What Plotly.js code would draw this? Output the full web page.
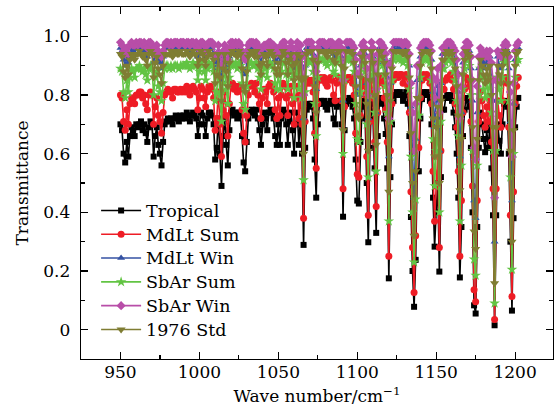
<!DOCTYPE html>
<html>
<head>
<meta charset="utf-8">
<script src="https://cdn.plot.ly/plotly-3.0.1.min.js"></script>
<style>
html,body{margin:0;padding:0;background:#fff;}
#chart{width:560px;height:414px;}
.legendtext{font-size:17.5px !important;}
</style>
</head>
<body>
<div id="chart"></div>
<script>
const wavenumber = [
950,951,952,953,954,955,956,957,958,959,960,961,962,963,964,965,966,967,968,969,
970,971,972,973,974,975,976,977,978,979,980,981,982,983,984,985,986,987,988,989,
990,991,992,993,994,995,996,997,998,999,1000,1001,1002,1003,1004,1005,1006,1007,1008,1009,
1010,1011,1012,1013,1014,1015,1016,1017,1018,1019,1020,1021,1022,1023,1024,1025,1026,1027,1028,1029,
1030,1031,1032,1033,1034,1035,1036,1037,1038,1039,1040,1041,1042,1043,1044,1045,1046,1047,1048,1049,
1050,1051,1052,1053,1054,1055,1056,1057,1058,1059,1060,1061,1062,1063,1064,1065,1066,1067,1068,1069,
1070,1071,1072,1073,1074,1075,1076,1077,1078,1079,1080,1081,1082,1083,1084,1085,1086,1087,1088,1089,
1090,1091,1092,1093,1094,1095,1096,1097,1098,1099,1100,1101,1102,1103,1104,1105,1106,1107,1108,1109,
1110,1111,1112,1113,1114,1115,1116,1117,1118,1119,1120,1121,1122,1123,1124,1125,1126,1127,1128,1129,
1130,1131,1132,1133,1134,1135,1136,1137,1138,1139,1140,1141,1142,1143,1144,1145,1146,1147,1148,1149,
1150,1151,1152,1153,1154,1155,1156,1157,1158,1159,1160,1161,1162,1163,1164,1165,1166,1167,1168,1169,
1170,1171,1172,1173,1174,1175,1176,1177,1178,1179,1180,1181,1182,1183,1184,1185,1186,1187,1188,1189,
1190,1191,1192,1193,1194,1195,1196,1197,1198,1199,1200,1201,1202];

const tropical = [
.70,.68,.60,.57,.64,.59,.66,.69,.68,.66, .70,.69,.70,.71,.68,.70,.67,.64,.69,.71,
.70,.59,.66,.69,.63,.60,.56,.64,.70,.71, .72,.71,.72,.70,.72,.73,.72,.71,.73,.72,
.73,.72,.74,.73,.71,.73,.74,.73,.72,.66, .70,.74,.73,.70,.66,.72,.74,.74,.73,.70,
.58,.62,.72,.60,.49,.66,.72,.63,.56,.68, .74,.75,.73,.74,.72,.74,.73,.66,.57,.54,
.64,.72,.74,.75,.74,.73,.75,.72,.68,.63, .70,.74,.72,.68,.74,.75,.74,.72,.66,.63,
.70,.63,.72,.75,.74,.70,.63,.71,.74,.68, .60,.70,.74,.63,.72,.60,.289,.62,.75,.77,
.76,.77,.72,.58,.45,.70,.77,.78,.77,.78, .76,.75,.77,.78,.77,.72,.70,.76,.78,.77,
.70,.385,.68,.77,.78,.79,.78,.76,.72,.58, .44,.43,.64,.76,.78,.72,.50,.298,.62,.77,
.72,.55,.33,.66,.78,.79,.77,.72,.667,.55, .175,.52,.70,.78,.80,.81,.80,.81,.80,.78,
.80,.81,.77,.66,.384,.20,.078,.238,.54,.54, .72,.786,.81,.80,.81,.80,.78,.70,.45,.283,
.40,.50,.198,.52,.75,.75,.79,.80,.79,.80, .78,.74,.69,.60,.45,.178,.35,.66,.75,.79,
.78,.76,.62,.40,.083,.055,.35,.62,.74,.70, .65,.605,.68,.62,.70,.55,.39,.015,.39,.70,
.644,.60,.70,.77,.78,.76,.60,.30,.065,.38, .69,.76,.79];

const mdltSum = [
.80,.79,.71,.68,.75,.70,.77,.79,.79,.77, .80,.80,.81,.81,.79,.80,.77,.75,.80,.81,
.80,.70,.76,.79,.73,.71,.67,.74,.80,.81, .82,.81,.81,.79,.82,.82,.81,.81,.82,.81,
.82,.81,.83,.82,.80,.82,.83,.82,.81,.75, .79,.83,.82,.79,.76,.81,.83,.83,.82,.79,
.68,.72,.81,.70,.59,.75,.81,.73,.66,.77, .83,.84,.82,.83,.81,.83,.82,.75,.67,.64,
.73,.80,.83,.84,.83,.81,.84,.80,.77,.72, .79,.82,.81,.77,.83,.84,.83,.81,.75,.72,
.79,.73,.80,.84,.83,.79,.73,.80,.83,.77, .70,.79,.83,.72,.80,.70,.38,.71,.84,.85,
.84,.85,.81,.67,.55,.77,.85,.86,.85,.86, .84,.83,.85,.86,.85,.80,.78,.84,.86,.85,
.78,.48,.76,.85,.86,.86,.86,.84,.80,.67, .53,.52,.73,.83,.85,.80,.59,.39,.71,.85,
.79,.64,.42,.74,.85,.86,.84,.79,.75,.64, .25,.61,.77,.85,.87,.87,.86,.87,.87,.84,
.86,.87,.83,.74,.47,.28,.127,.32,.62,.62, .79,.85,.87,.86,.87,.86,.84,.77,.54,.37,
.49,.59,.28,.61,.82,.82,.85,.86,.86,.87, .85,.82,.77,.69,.54,.25,.44,.74,.82,.86,
.85,.83,.71,.49,.136,.095,.44,.71,.81,.78, .73,.69,.76,.71,.78,.64,.48,.035,.48,.78,
.73,.69,.78,.85,.86,.84,.69,.39,.113,.47, .77,.83,.86];

const mdltWin = [
.96,.95,.92,.90,.93,.91,.94,.96,.95,.94, .96,.96,.96,.96,.95,.96,.95,.93,.96,.96,
.96,.91,.94,.95,.92,.91,.89,.93,.96,.96, .96,.96,.96,.95,.96,.96,.96,.95,.96,.96,
.96,.96,.96,.96,.95,.96,.96,.96,.96,.93, .94,.96,.96,.94,.93,.95,.96,.96,.96,.94,
.89,.91,.95,.90,.85,.93,.95,.91,.88,.93, .96,.96,.95,.96,.95,.96,.96,.92,.88,.87,
.92,.95,.96,.96,.96,.95,.96,.95,.93,.91, .94,.96,.95,.93,.96,.96,.96,.95,.92,.91,
.94,.91,.95,.96,.96,.94,.91,.94,.96,.93, .89,.93,.96,.90,.95,.89,.72,.90,.96,.96,
.96,.96,.94,.88,.82,.93,.96,.96,.96,.96, .95,.95,.96,.96,.96,.94,.93,.96,.96,.96,
.93,.78,.92,.96,.96,.97,.96,.95,.94,.88, .81,.80,.90,.95,.96,.94,.84,.72,.89,.96,
.93,.86,.74,.91,.96,.96,.95,.93,.91,.86, .59,.84,.92,.96,.97,.97,.96,.96,.96,.95,
.96,.96,.95,.90,.76,.61,.45,.65,.85,.85, .93,.95,.96,.96,.97,.96,.95,.92,.81,.69,
.78,.83,.61,.84,.94,.94,.96,.96,.96,.96, .96,.94,.92,.88,.81,.59,.74,.91,.94,.96,
.96,.95,.89,.78,.44,.38,.74,.89,.94,.92, .91,.89,.92,.89,.93,.86,.78,.30,.78,.93,
.90,.89,.93,.96,.96,.95,.89,.71,.44,.77, .92,.96,.96];

const sbarSum = [
.89,.88,.81,.79,.85,.81,.86,.89,.88,.86, .89,.89,.90,.89,.88,.89,.87,.85,.89,.90,
.89,.80,.86,.88,.83,.81,.78,.84,.89,.90, .90,.89,.90,.89,.90,.90,.90,.89,.90,.90,
.90,.90,.91,.90,.89,.90,.91,.90,.90,.85, .88,.91,.90,.88,.85,.89,.91,.90,.90,.88,
.78,.81,.89,.80,.71,.84,.89,.82,.77,.86, .90,.91,.90,.91,.89,.91,.90,.84,.77,.75,
.83,.89,.91,.91,.90,.90,.91,.89,.86,.82, .87,.90,.89,.86,.91,.91,.90,.89,.84,.82,
.87,.82,.88,.91,.91,.87,.82,.88,.91,.86, .79,.87,.91,.82,.88,.79,.51,.81,.91,.92,
.91,.92,.88,.77,.66,.86,.92,.92,.92,.92, .91,.90,.92,.92,.91,.88,.87,.91,.92,.92,
.86,.60,.85,.92,.92,.93,.92,.91,.88,.77, .65,.64,.81,.90,.92,.88,.70,.52,.80,.92,
.87,.74,.54,.82,.92,.92,.90,.87,.83,.74, .37,.71,.85,.92,.93,.93,.92,.93,.92,.91,
.92,.93,.90,.82,.59,.40,.23,.445,.73,.73, .86,.91,.93,.92,.93,.92,.91,.85,.65,.49,
.61,.70,.40,.71,.89,.89,.91,.92,.92,.93, .91,.88,.85,.78,.66,.37,.56,.82,.89,.92,
.92,.90,.80,.61,.24,.185,.56,.80,.89,.86, .82,.79,.85,.80,.86,.74,.61,.09,.61,.86,
.82,.78,.86,.91,.92,.91,.78,.52,.205,.60, .86,.91,.92];

const sbarWin = [
.98,.97,.95,.94,.96,.94,.97,.98,.97,.97, .98,.97,.98,.98,.97,.98,.97,.96,.98,.98,
.97,.94,.96,.97,.95,.94,.93,.95,.97,.98, .98,.97,.98,.97,.98,.98,.98,.97,.98,.98,
.98,.97,.98,.98,.97,.98,.98,.97,.98,.96, .97,.98,.98,.97,.95,.97,.98,.98,.98,.97,
.93,.94,.97,.94,.90,.95,.97,.95,.92,.96, .98,.98,.97,.98,.97,.98,.97,.95,.93,.92,
.95,.97,.98,.98,.98,.97,.98,.97,.96,.94, .96,.97,.97,.96,.98,.98,.97,.97,.95,.94,
.96,.94,.97,.98,.98,.96,.94,.96,.98,.96, .93,.96,.98,.94,.97,.93,.80,.94,.98,.98,
.98,.98,.96,.92,.88,.96,.98,.98,.98,.98, .97,.97,.98,.98,.98,.96,.96,.97,.98,.98,
.96,.85,.95,.98,.98,.98,.98,.97,.96,.92, .87,.87,.94,.97,.98,.96,.89,.80,.93,.98,
.96,.91,.82,.94,.98,.98,.97,.96,.94,.91, .72,.90,.95,.98,.98,.98,.98,.98,.98,.97,
.98,.98,.97,.94,.84,.74,.61,.77,.90,.90, .96,.97,.98,.98,.98,.98,.97,.95,.86,.79,
.85,.89,.74,.90,.96,.96,.97,.98,.98,.98, .97,.96,.95,.92,.87,.72,.83,.94,.96,.98,
.98,.97,.93,.85,.62,.58,.83,.93,.96,.95, .94,.93,.95,.93,.95,.91,.85,.45,.85,.95,
.94,.93,.95,.97,.98,.97,.93,.81,.59,.84, .95,.97,.98];

const std1976 = [
.94,.93,.88,.86,.90,.87,.92,.94,.93,.92, .94,.94,.95,.94,.93,.94,.92,.90,.94,.95,
.94,.86,.91,.93,.89,.87,.84,.90,.94,.94, .94,.94,.95,.93,.94,.95,.94,.94,.95,.94,
.94,.94,.95,.94,.93,.94,.95,.94,.94,.90, .92,.95,.94,.92,.90,.93,.95,.94,.94,.92,
.84,.87,.94,.86,.78,.89,.94,.88,.83,.91, .94,.95,.94,.94,.93,.95,.94,.89,.83,.81,
.88,.93,.94,.95,.94,.93,.95,.93,.90,.87, .91,.94,.93,.90,.94,.95,.94,.93,.89,.87,
.91,.87,.93,.95,.94,.91,.87,.92,.94,.90, .85,.91,.94,.86,.93,.85,.60,.86,.94,.95,
.95,.95,.92,.83,.74,.91,.95,.95,.95,.95, .94,.93,.95,.95,.95,.92,.91,.94,.95,.95,
.90,.68,.89,.95,.95,.95,.95,.94,.91,.83, .73,.72,.86,.93,.95,.91,.77,.61,.85,.95,
.91,.80,.63,.87,.95,.95,.93,.91,.87,.80, .47,.78,.89,.95,.95,.95,.95,.95,.95,.94,
.95,.95,.93,.86,.67,.50,.32,.54,.79,.79, .90,.94,.95,.95,.95,.95,.94,.89,.72,.59,
.69,.76,.50,.78,.92,.92,.94,.95,.94,.95, .94,.92,.89,.83,.73,.475,.65,.87,.92,.95,
.94,.93,.85,.69,.335,.275,.65,.85,.92,.90, .87,.84,.89,.85,.90,.80,.69,.158,.69,.90,
.87,.84,.90,.94,.95,.94,.84,.61,.30,.68, .90,.94,.95];

const seriesNames = ['Tropical','MdLt Sum','MdLt Win','SbAr Sum','SbAr Win','1976 Std'];
const seriesValues = [tropical, mdltSum, mdltWin, sbarSum, sbarWin, std1976];
const seriesColors = ['#000000','#ee1c25','#3452a3','#62c443','#b84ea8','#7f7d33'];
const seriesSymbols = ['square','circle','triangle-up','star','diamond','triangle-down'];
const seriesSizes = [6,7,7,8,7,8];

const traces = seriesNames.map((name, i) => ({
  type: 'scatter',
  mode: 'lines+markers',
  name: name,
  legendgroup: 'g' + i,
  x: wavenumber,
  y: seriesValues[i],
  line: {color: seriesColors[i], width: 1.6},
  marker: {color: seriesColors[i], symbol: seriesSymbols[i], size: seriesSizes[i], line: {width: 0}}
}));

const serif = 'DejaVu Serif';
const layout = {
  width: 560, height: 414,
  margin: {l: 81, r: 7, t: 7, b: 55},
  paper_bgcolor: '#ffffff',
  plot_bgcolor: '#ffffff',
  font: {family: serif, size: 17, color: '#000'},
  showlegend: true,
  legend: {
    x: 0.032, y: 0.47, xanchor: 'left', yanchor: 'top',
    bgcolor: 'rgba(0,0,0,0)', borderwidth: 0,
    font: {family: serif, size: 16, color: '#000'},
    tracegroupgap: 0, itemwidth: 40
  },
  xaxis: {
    range: [925, 1224],
    tick0: 950, dtick: 50,
    ticks: 'inside', ticklen: 7, tickwidth: 1.2, tickcolor: '#000',
    minor: {dtick: 25, tick0: 925, ticks: 'inside', ticklen: 4, tickwidth: 1.2, tickcolor: '#000'},
    showline: true, linecolor: '#000', linewidth: 1.3, mirror: 'ticks',
    showgrid: false, zeroline: false,
    tickfont: {family: serif, size: 17, color: '#000'},
    ticklabelstandoff: -3,
    title: {text: 'Wave number/cm<sup>−1</sup>', font: {family: serif, size: 17, color: '#000'}, standoff: 9}
  },
  yaxis: {
    range: [-0.1, 1.1],
    tickvals: [0, 0.2, 0.4, 0.6, 0.8, 1.0],
    ticktext: ['0', '0.2', '0.4', '0.6', '0.8', '1.0'],
    ticks: 'inside', ticklen: 7, tickwidth: 1.2, tickcolor: '#000',
    minor: {dtick: 0.1, tick0: 0, ticks: 'inside', ticklen: 4, tickwidth: 1.2, tickcolor: '#000'},
    showline: true, linecolor: '#000', linewidth: 1.3, mirror: 'ticks',
    showgrid: false, zeroline: false,
    tickfont: {family: serif, size: 17, color: '#000'},
    ticklabelstandoff: 6,
    title: {text: 'Transmittance', font: {family: serif, size: 17, color: '#000'}, standoff: 10}
  }
};

Plotly.newPlot('chart', traces, layout, {displayModeBar: false, staticPlot: true});
</script>
</body>
</html>
